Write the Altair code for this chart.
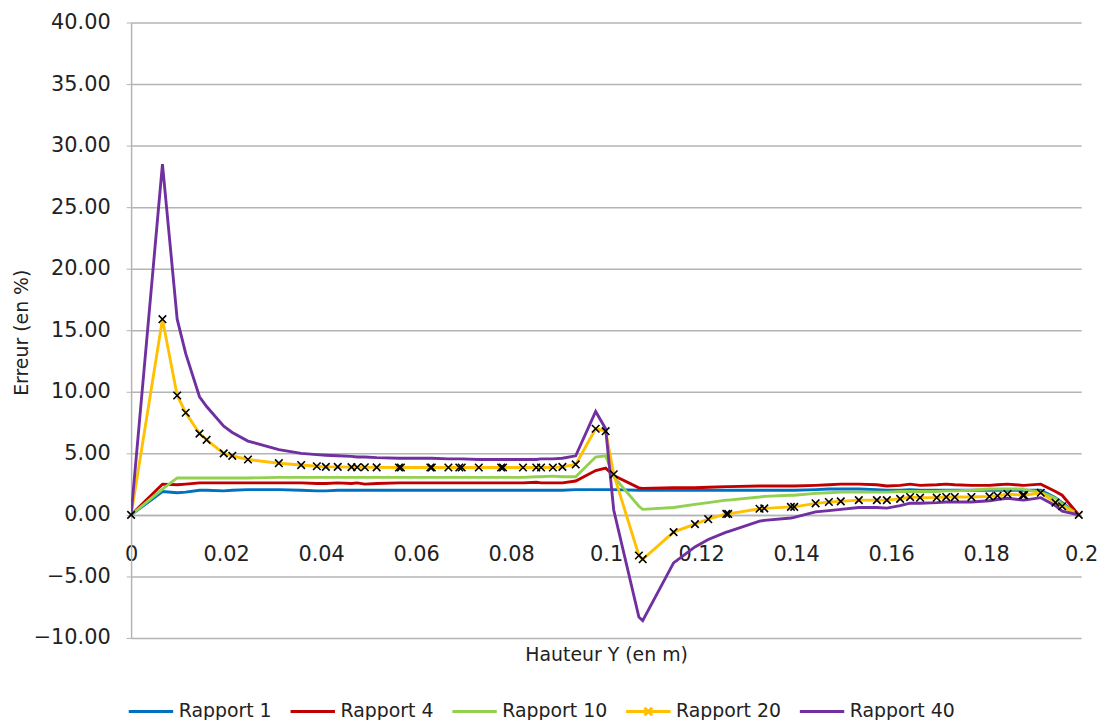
import altair as alt
import pandas as pd

series_names = ["Rapport 1", "Rapport 4", "Rapport 10", "Rapport 20", "Rapport 40"]
series_colors = ["#0070C0", "#C00000", "#92D050", "#FFC000", "#7030A0"]

hauteur = [0.0, 0.0066, 0.0097, 0.0115, 0.0144, 0.0159, 0.0195, 0.0213, 0.0246, 0.0311,
           0.0358, 0.0391, 0.0410, 0.0435, 0.0464, 0.0476, 0.0492, 0.0517, 0.0564, 0.0568,
           0.0630, 0.0633, 0.0668, 0.0691, 0.0696, 0.0732, 0.0779, 0.0783, 0.0825, 0.0853,
           0.0863, 0.0888, 0.0908, 0.0936, 0.0978, 0.0999, 0.1016, 0.1069, 0.1077, 0.1142,
           0.1187, 0.1215, 0.1253, 0.1257, 0.1323, 0.1333, 0.1389, 0.1396, 0.1441, 0.1469,
           0.1494, 0.1532, 0.1570, 0.1591, 0.1619, 0.1640, 0.1661, 0.1696, 0.1716, 0.1734,
           0.1769, 0.1807, 0.1824, 0.1845, 0.1877, 0.1880, 0.1915, 0.1946, 0.1960, 0.1995]

rapport_1 = [0.0, 1.9, 1.8, 1.85, 2.0, 2.0, 1.95, 2.0, 2.05, 2.05,
             2.0, 1.95, 1.95, 2.0, 2.0, 2.0, 2.0, 2.0, 2.0, 2.0,
             2.0, 2.0, 2.0, 2.0, 2.0, 2.0, 2.0, 2.0, 2.0, 2.0,
             2.0, 2.0, 2.0, 2.05, 2.05, 2.05, 2.05, 2.0, 2.0, 2.0,
             2.0, 2.0, 2.0, 2.0, 2.0, 2.0, 2.0, 2.0, 2.05, 2.1,
             2.1, 2.1, 2.05, 2.0, 2.0, 2.05, 2.0, 2.0, 2.0, 2.0,
             2.0, 2.0, 2.0, 2.0, 2.0, 2.0, 2.0, 1.4, 1.0, 0.0]

rapport_4 = [0.0, 2.5, 2.45, 2.5, 2.6, 2.6, 2.6, 2.6, 2.6, 2.6,
             2.6, 2.55, 2.55, 2.6, 2.55, 2.6, 2.5, 2.55, 2.6, 2.6,
             2.6, 2.6, 2.6, 2.6, 2.6, 2.6, 2.6, 2.6, 2.6, 2.65,
             2.6, 2.6, 2.6, 2.75, 3.6, 3.8, 3.2, 2.2, 2.15, 2.2,
             2.2, 2.25, 2.3, 2.3, 2.35, 2.35, 2.35, 2.35, 2.4, 2.45,
             2.5, 2.5, 2.45, 2.35, 2.4, 2.5, 2.4, 2.45, 2.5, 2.45,
             2.4, 2.4, 2.45, 2.5, 2.4, 2.4, 2.5, 1.9, 1.6, 0.0]

rapport_10 = [0.0, 2.1, 3.0, 3.0, 3.0, 3.0, 3.0, 3.0, 3.0, 3.05,
              3.05, 3.05, 3.05, 3.05, 3.05, 3.05, 3.05, 3.05, 3.05, 3.05,
              3.05, 3.05, 3.05, 3.05, 3.05, 3.05, 3.05, 3.05, 3.05, 3.1,
              3.1, 3.15, 3.1, 3.1, 4.7, 4.8, 3.1, 0.7, 0.45, 0.6,
              0.85, 1.0, 1.2, 1.2, 1.45, 1.5, 1.6, 1.6, 1.75, 1.8,
              1.85, 1.85, 1.85, 1.85, 1.9, 1.9, 1.9, 1.9, 1.95, 1.95,
              2.0, 2.1, 2.1, 2.1, 2.1, 2.05, 1.85, 1.35, 0.9, 0.0]

rapport_20 = [0.0, 15.9, 9.7, 8.3, 6.6, 6.1, 5.0, 4.8, 4.5, 4.2,
              4.05, 3.95, 3.9, 3.9, 3.88, 3.87, 3.87, 3.86, 3.85, 3.85,
              3.85, 3.85, 3.85, 3.85, 3.85, 3.85, 3.85, 3.85, 3.85, 3.85,
              3.85, 3.85, 3.9, 4.1, 7.0, 6.8, 3.3, -3.3, -3.6, -1.4,
              -0.75, -0.35, 0.08, 0.08, 0.5, 0.53, 0.65, 0.65, 0.94, 1.05,
              1.1, 1.2, 1.2, 1.2, 1.3, 1.45, 1.4, 1.4, 1.45, 1.45,
              1.45, 1.5, 1.55, 1.7, 1.6, 1.6, 1.8, 1.0, 0.7, 0.0]

rapport_40 = [0.0, 28.5, 15.9, 13.1, 9.6, 8.8, 7.2, 6.7, 6.0, 5.3,
              5.0, 4.9, 4.85, 4.8, 4.75, 4.7, 4.7, 4.65, 4.6, 4.6,
              4.6, 4.6, 4.55, 4.55, 4.55, 4.5, 4.5, 4.5, 4.5, 4.5,
              4.55, 4.55, 4.6, 4.8, 8.4, 7.0, 0.4, -8.3, -8.6, -3.9,
              -2.6, -2.0, -1.4, -1.35, -0.5, -0.45, -0.25, -0.2, 0.25, 0.35,
              0.45, 0.6, 0.6, 0.55, 0.75, 0.95, 0.95, 1.0, 1.05, 1.05,
              1.05, 1.15, 1.25, 1.35, 1.2, 1.2, 1.4, 0.75, 0.3, 0.0]

x_ticks = [0, 0.02, 0.04, 0.06, 0.08, 0.1, 0.12, 0.14, 0.16, 0.18, 0.2]
y_ticks = [-10, -5, 0, 5, 10, 15, 20, 25, 30, 35, 40]

rows = []
for name, ys in zip(series_names, [rapport_1, rapport_4, rapport_10, rapport_20, rapport_40]):
    for i, (xv, yv) in enumerate(zip(hauteur, ys)):
        rows.append({"x": xv, "y": yv, "series": name, "order": i})
df = pd.DataFrame(rows)

FONT = "DejaVu Sans"
GRID = "#B4B4B4"

x_enc = alt.X(
    "x:Q",
    scale=alt.Scale(domain=[0, 0.2], nice=False, zero=False),
    axis=alt.Axis(
        values=x_ticks, format="~g", title="Hauteur Y (en m)", offset=-124,
        grid=False, ticks=False, domainColor=GRID, domainWidth=1.5,
        labelFontSize=21, labelFont=FONT, labelColor="#222222", labelPadding=29,
        labelFlush=False, labelOverlap=False,
        titleFont=FONT, titleFontSize=19, titleFontWeight="normal", titleColor="#222222",
        titleY=141, titleBaseline="middle",
    ),
)
y_enc = alt.Y(
    "y:Q",
    scale=alt.Scale(domain=[-10, 40], nice=False, zero=False),
    axis=alt.Axis(
        values=y_ticks, format=".2f", title="Erreur (en %)",
        grid=True, gridColor=GRID, gridWidth=1.5,
        domainColor=GRID, domainWidth=1.5, ticks=True, tickSize=5, tickColor=GRID,
        labelFontSize=21, labelFont=FONT, labelColor="#222222", labelPadding=16,
        labelOverlap=False, labelFlush=False,
        titleFont=FONT, titleFontSize=19, titleFontWeight="normal", titleColor="#222222",
        titleAngle=-90, titleX=-110, titleY=312, titleAlign="center", titleBaseline="middle",
    ),
)

color_scale = alt.Scale(domain=series_names, range=series_colors)

lines = alt.Chart(df).mark_line(strokeWidth=2.9, clip=True).encode(
    x=x_enc,
    y=y_enc,
    color=alt.Color("series:N", scale=color_scale, legend=None),
    order=alt.Order("order:Q"),
)

markers = alt.Chart(df).transform_filter(
    alt.datum.series == "Rapport 20"
).mark_point(
    shape="M-1,-1L1,1M-1,1L1,-1", filled=False, color="#000000", strokeWidth=1.6, size=58, opacity=1
).encode(x="x:Q", y="y:Q")

line_sym = "M-1,0H1"
cross_sym = "M-1,0H1M-0.17,-0.17L0.17,0.17M-0.17,0.17L0.17,-0.17"
legend_shapes = [line_sym, line_sym, line_sym, cross_sym, line_sym]

legend_layer = alt.Chart(df).transform_filter(
    alt.datum.order == 0
).mark_point(filled=False, opacity=0).encode(
    x="x:Q",
    y="y:Q",
    stroke=alt.Stroke("series:N", scale=alt.Scale(domain=series_names, range=series_colors),
                      legend=alt.Legend(title=None)),
    shape=alt.Shape("series:N", scale=alt.Scale(domain=series_names, range=legend_shapes),
                    legend=alt.Legend(title=None)),
)

chart = alt.layer(lines, markers, legend_layer).resolve_scale(
    color="independent"
).properties(
    width=957,
    height=620,
    autosize=alt.AutoSizeParams(type="none"),
    padding={"left": 124, "top": 12, "right": 18, "bottom": 80},
).configure_view(stroke=None).configure_legend(
    orient="none",
    legendX=-4,
    legendY=670,
    direction="horizontal",
    symbolSize=2000,
    symbolStrokeWidth=3,
    symbolOpacity=1,
    labelFont=FONT,
    labelFontSize=19,
    labelColor="#222222",
    labelOffset=4,
    columnPadding=12,
    symbolLimit=0,
)

chart.save("out.html", embed_options={"renderer": "svg", "actions": False})
